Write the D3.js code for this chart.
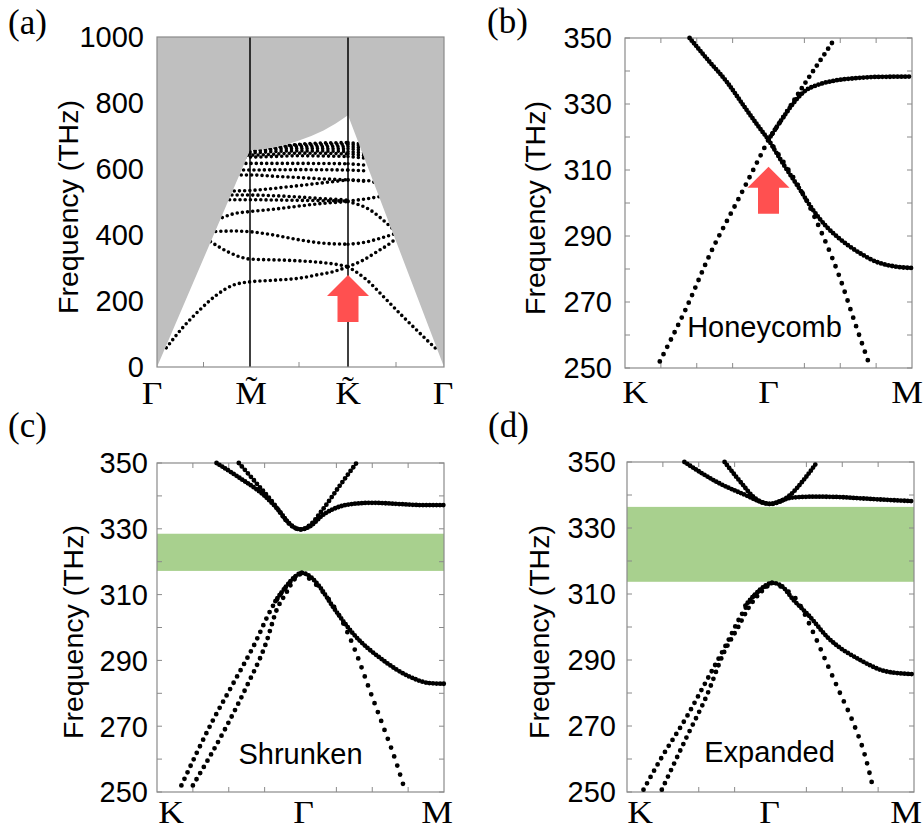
<!DOCTYPE html>
<html><head><meta charset="utf-8">
<script src="https://cdn.jsdelivr.net/npm/d3@7"></script>
<style>body{margin:0;background:#fff}</style>
</head><body>
<svg id="chart" width="924" height="832" xmlns="http://www.w3.org/2000/svg"></svg>
<script>
// ================= DATA =================
// ---- panel (a): band structure along Γ–M~–K~–Γ (path index 0..6)
const aPathTicks  = [0, 2, 4, 6];
const aPathLabels = ["Γ", "M\u0303", "K\u0303", "Γ"];
const aMinorTicks = [1, 3, 5];
const aYTicks     = [0, 200, 400, 600, 800, 1000];
const aLightLine  = [[0,0],[2,657],[2.25,659],[2.5,665],[2.75,674],[3,686],[3.25,700],[3.5,717],[3.75,738],[4,763],[6,0]];
const aBand1  = [[0.2,58],[0.57,122],[0.92,173],[1.28,218],[1.64,248],[2,258],[2.5,263],[3,269],[3.36,279],[3.7,289],[4,304],[4.39,264],[4.74,213],[5.15,152],[5.57,92],[5.82,57]];
const aBand2  = [[1.15,380],[1.57,346],[2,327],[2.82,323],[3.5,316],[3.84,309],[4,304],[4.32,324],[4.6,349],[4.88,375],[5.05,395]];
const aBand3  = [[1.15,410],[1.64,412],[2,410],[2.48,400],[3.02,385],[3.5,375],[4,372],[4.32,377],[4.67,390],[5,405]];
const aBand4  = [[1.2,440],[1.64,464],[2,471],[2.48,478],[3.02,488],[3.5,496],[4,501],[4.46,476],[4.81,435],[5,410]];
const aBand5  = [[1.45,507],[2,507],[2.5,506],[3,505],[3.5,504],[4,503],[4.3,508],[4.6,515],[4.75,519]];
const aBand6  = [[1.5,521],[2,521],[2.5,519],[3,515],[3.5,510],[4,506]];
const aBand7  = [[1.55,533],[2,535],[2.78,546],[3.48,558],[4,567],[4.45,564],[4.6,556]];
const aBand8  = [[1.7,582],[2,582],[2.5,578],[3,574],[3.5,570],[4,567],[4.4,562]];
const aBand9  = [[1.75,597],[2,597],[3,598],[4,597],[4.4,594]];
const aBand10 = [[1.8,617],[2,617],[3,617],[4,616],[4.35,612]];
const aBand11 = [[1.9,636],[2,636],[3,640],[4,638],[4.4,632]];
const aBand12 = [[1.95,642],[2,642],[3,648],[4,646],[4.4,640]];
const aBand13 = [[2,648],[3,655],[4,653],[4.4,648]];
const aBand14 = [[2,653],[3,662],[4,661],[4.4,656]];
const aBand15 = [[2.1,657],[3,668],[4,668],[4.4,663]];
const aBand16 = [[2.4,663],[3,673],[4,675],[4.4,670]];
const aBand17 = [[2.8,672],[3.3,678],[4,680],[4.3,676]];
const aArrowTip = [4, 279];

// ---- panels (b)(c)(d): K–Γ–M (path index 0..8)
const kgmTicks  = [0, 4, 8];
const kgmLabels = ["K", "Γ", "M"];
const kgmMinor  = [1, 2, 3, 5, 6, 7];
const freqTicks = [250, 260, 270, 280, 290, 300, 310, 320, 330, 340, 350];
const freqLabels = [250, 270, 290, 310, 330, 350];

// (b) honeycomb
const bLeftDense       = [[1.8,350],[2.3,343.5],[2.83,336.8],[3.39,328.2],[3.7,323.5],[4.0,319.2]];
const bLeftSparse      = [[0.97,252],[1.7,268],[2.37,284.5],[3.2,302],[4.0,319.2]];
const bRightUpSparse   = [[4.0,319.2],[4.5,327.5],[5.0,336],[5.4,342.5],[5.8,349]];
const bRightUpDense    = [[4.0,319.2],[4.4,325.8],[4.75,331],[5.0,333.8],[5.4,335.9],[5.8,337],[6.4,337.8],[7,338.2],[8,338.3]];
const bRightDownSparse = [[4.0,319.2],[4.5,311],[5.0,302],[5.5,290.5],[6.0,277],[6.4,264],[6.78,252]];
const bRightDownDense  = [[4.0,319.2],[4.4,312],[4.87,304.2],[5.2,298.5],[5.62,292.8],[6.0,289],[6.55,284.8],[7.0,282.2],[7.5,280.8],[8,280.3]];
const bArrowTip = [4, 311];

// (c) shrunken
const cUp1   = [[1.66,350],[2.3,345.5],[3.0,340],[3.4,335.5],[3.7,331.5],[4.0,329.8],[4.3,331],[4.6,334],[5.0,336.4],[5.5,337.6],[6,337.9],[6.8,337.5],[7.4,337.2],[8,337.2]];
const cUp2   = [[2.28,350],[2.8,343.5],[3.3,337],[3.6,332.5],[3.85,330.2],[4.0,329.8],[4.25,331],[4.63,336],[5.1,343.2],[5.56,350]];
const cLow1  = [[0.68,252],[1.56,271.8],[2.12,282.9],[2.68,294.1],[3.24,306.7],[3.6,312.3],[3.85,315.3],[4.03,316.6]];
const cLow2  = [[1.0,252],[1.93,269.8],[2.49,281.9],[3.05,295.6],[3.33,305.2],[3.6,310.5],[3.8,314.2],[4.03,316.6]];
const cMidDense    = [[3.3,308],[3.6,312.5],[3.85,315.5],[4.03,316.6],[4.3,315.2],[4.54,312.3],[4.91,306.2],[5.47,298.1],[6.31,290],[7.05,285],[7.6,283.1],[8,282.9]];
const cRightSparse = [[4.03,316.6],[4.5,312.3],[5.1,303.2],[5.56,292],[5.93,280.9],[6.31,269.8],[6.68,258.6],[6.87,252]];
const cGap = [317.2, 328.5];

// (d) expanded
const dUp1   = [[1.6,350],[2.6,343.4],[3.34,339.8],[3.71,338],[4.0,337.3],[4.3,338.3],[4.6,339.2],[5.2,339.5],[5.85,339.4],[6.5,339],[7.3,338.5],[8,338.1]];
const dUp2   = [[2.72,350],[3.16,344],[3.53,339.4],[3.8,337.6],[4.0,337.3],[4.27,338],[4.55,340],[4.92,344.5],[5.3,350]];
const dLow1  = [[0.46,250.7],[0.93,259.8],[1.67,272.9],[2.23,284],[2.78,295],[3.16,303.1],[3.53,309.2],[3.8,311.8],[4.04,313.4]];
const dLow2  = [[0.97,250.7],[1.67,266.8],[2.23,279.4],[2.69,292],[3.1,300],[3.4,306],[3.75,310.8],[4.04,313.4]];
const dMidDense    = [[3.3,306.5],[3.6,310.2],[3.85,312.5],[4.04,313.4],[4.3,312.5],[4.64,308.2],[5.1,303.1],[5.57,297.1],[6.5,290],[7.24,286.5],[8,285.7]];
const dRightSparse = [[4.04,313.4],[4.4,311.5],[4.73,308.2],[5.2,298.1],[5.57,289],[5.94,279.9],[6.31,270.9],[6.64,260.8],[6.87,250.7]];
const dGap = [313.7, 336.4];

const panelTitles = ["(a)", "(b)", "(c)", "(d)"];
const yTitle = "Frequency (THz)";
const latticeNames = ["Honeycomb", "Shrunken", "Expanded"];

// ================= RENDER =================
const SANS  = "'Liberation Sans', Arial, Helvetica, sans-serif";
const SERIF = "'Liberation Serif', 'Times New Roman', Times, serif";
const FRAME = "#8a8a8a", GRAY = "#bfbfbf", RED = "#ff5050", GREEN = "#a8d08e";
const TICKFS = 29, SYMFS = 31;
const svg = d3.select("#chart");

function splitAt(pts, xs) {
  const segs = []; let cur = [pts[0]];
  for (let i = 1; i < pts.length; i++) {
    cur.push(pts[i]);
    if (xs.includes(pts[i][0]) && i < pts.length - 1) { segs.push(cur); cur = [pts[i]]; }
  }
  segs.push(cur); return segs;
}

function dotted(g, x, y, pts, r, gap, splits) {
  const line = d3.line().x(d => x(d[0])).y(d => y(d[1])).curve(d3.curveMonotoneX);
  const segs = splits ? splitAt(pts, splits) : [pts];
  segs.forEach(s => g.append("path").attr("d", line(s)).attr("fill", "none")
    .attr("stroke", "#000").attr("stroke-width", r).attr("stroke-linecap", "round")
    .attr("stroke-dasharray", `0 ${gap}`));
}

function arrow(g, cx, tipY) {
  const pts = [[0,0],[21,21],[10.5,21],[10.5,47],[-10.5,47],[-10.5,21],[-21,21]];
  g.append("polygon").attr("points", pts.map(p => `${cx+p[0]},${tipY+p[1]}`).join(" ")).attr("fill", RED);
}

function frameAndTicks(g, x, y, xMinor, yTickVals, tickLen, sides) {
  const [x0, x1] = [x.range()[0], x.range()[x.range().length-1]];
  const [y0, y1] = [y.range()[0], y.range()[1]];
  xMinor.forEach(v => {
    if (sides.bottom) g.append("line").attr("x1", x(v)).attr("x2", x(v)).attr("y1", y0).attr("y2", y0 - tickLen).attr("stroke", FRAME);
    if (sides.top) g.append("line").attr("x1", x(v)).attr("x2", x(v)).attr("y1", y1).attr("y2", y1 + tickLen).attr("stroke", FRAME);
  });
  yTickVals.forEach(v => {
    g.append("line").attr("x1", x0).attr("x2", x0 + tickLen).attr("y1", y(v)).attr("y2", y(v)).attr("stroke", FRAME);
    g.append("line").attr("x1", x1).attr("x2", x1 - tickLen).attr("y1", y(v)).attr("y2", y(v)).attr("stroke", FRAME);
  });
  g.append("rect").attr("x", x0).attr("y", y1).attr("width", x1 - x0).attr("height", y0 - y1)
    .attr("fill", "none").attr("stroke", FRAME).attr("stroke-width", 1.2);
}

function yLabels(g, x, y, vals, gap) {
  vals.forEach(v => g.append("text").attr("x", x.range()[0] - gap).attr("y", y(v)).attr("dy", "0.36em")
    .attr("text-anchor", "end").attr("font-family", SANS).attr("font-size", TICKFS).text(v));
}
function xLabels(g, x, vals, labels, baseY, dxs) {
  vals.forEach((v, i) => g.append("text").attr("transform", `translate(${x(v) + dxs[i]},${baseY}) scale(1.15,1)`)
    .attr("text-anchor", "middle").attr("font-family", SERIF).attr("font-size", SYMFS).text(labels[i]));
}
function yTitleText(g, cx, cy) {
  g.append("text").attr("transform", `translate(${cx + 7},${cy}) rotate(-90)`).attr("text-anchor", "middle")
    .attr("font-family", SANS).attr("font-size", 28.5).text(yTitle);
}
function panelTitle(g, t, px, py) {
  g.append("text").attr("x", px).attr("y", py).attr("font-family", SERIF).attr("font-size", 35).text(t);
}

// ---------- panel (a)
(function() {
  const g = svg.append("g");
  const x = d3.scaleLinear().domain(aPathTicks).range([157, 250, 348, 444]);
  const y = d3.scaleLinear().domain([0, 1000]).range([367, 37]);
  g.append("rect").attr("x", 157).attr("y", 37).attr("width", 287).attr("height", 330).attr("fill", GRAY);
  const cone = d3.line().x(d => x(d[0])).y(d => y(d[1]))(aLightLine) + "Z";
  g.append("path").attr("d", cone).attr("fill", "#fff");
  svg.append("defs").append("clipPath").attr("id", "coneClip").append("path").attr("d", cone);
  [2, 4].forEach(v => g.append("line").attr("x1", x(v)).attr("x2", x(v)).attr("y1", 367).attr("y2", 37)
    .attr("stroke", "#000").attr("stroke-width", 1.5));
  const bands = [aBand1,aBand2,aBand3,aBand4,aBand5,aBand6,aBand7,aBand8,aBand9,aBand10,aBand11,aBand12,aBand13,aBand14,aBand15,aBand16,aBand17];
  const gb = g.append("g").attr("clip-path", "url(#coneClip)");
  bands.forEach(b => dotted(gb, x, y, b, 3.6, 5.2, [4]));
  arrow(g, x(aArrowTip[0]), y(aArrowTip[1]));
  frameAndTicks(g, x, y, aMinorTicks, [], 5, {bottom: true, top: false});
  yLabels(g, x, y, aYTicks, 13);
  xLabels(g, x, aPathTicks, aPathLabels, 404, [-5, 1, 0, -1]);
  yTitleText(g, 71, 207);
  panelTitle(g, panelTitles[0], 8, 34);
})();

// ---------- panels (b)(c)(d)
function kgmPanel(o) {
  const g = svg.append("g");
  const x = d3.scaleLinear().domain([0, 8]).range([o.x0, o.x1]);
  const y = d3.scaleLinear().domain([250, 350]).range([o.yb, o.yt]);
  if (o.gap) g.append("rect").attr("x", o.x0).attr("y", y(o.gap[1])).attr("width", o.x1 - o.x0)
    .attr("height", y(o.gap[0]) - y(o.gap[1])).attr("fill", GREEN);
  frameAndTicks(g, x, y, kgmMinor, freqTicks, 5, {bottom: true, top: true});
  o.bands.forEach(b => dotted(g, x, y, b.d, 4.8, b.gap));
  if (o.arrowTip) arrow(g, x(o.arrowTip[0]), y(o.arrowTip[1]));
  g.append("text").attr("x", x(4) + o.nameDx).attr("y", o.nameY).attr("text-anchor", "middle")
    .attr("font-family", SANS).attr("font-size", 29).text(o.name);
  yLabels(g, x, y, freqLabels, o.labGap);
  xLabels(g, x, kgmTicks, kgmLabels, o.xlabY, o.xlabDx);
  yTitleText(g, o.ytx, o.yty);
  panelTitle(g, o.title, o.tx, o.ty);
}

kgmPanel({x0: 625, x1: 912, yt: 38, yb: 368, labGap: 13, xlabY: 403, xlabDx: [10, 0, -5],
  ytx: 538, yty: 208, title: panelTitles[1], tx: 487, ty: 33,
  name: latticeNames[0], nameDx: -4, nameY: 337, arrowTip: bArrowTip,
  bands: [{d: bLeftDense, gap: 3.4}, {d: bLeftSparse, gap: 8.2}, {d: bRightUpSparse, gap: 6.8},
          {d: bRightUpDense, gap: 3.8}, {d: bRightDownSparse, gap: 9}, {d: bRightDownDense, gap: 3.8}]});

kgmPanel({x0: 157, x1: 444, yt: 463, yb: 792, labGap: 9, xlabY: 823, xlabDx: [14, 3, -7],
  ytx: 76, yty: 632, title: panelTitles[2], tx: 8, ty: 437, gap: cGap,
  name: latticeNames[1], nameDx: 0, nameY: 764,
  bands: [{d: cUp1, gap: 3.4}, {d: cUp2, gap: 4.6}, {d: cLow1, gap: 7.2}, {d: cLow2, gap: 7.2},
          {d: cMidDense, gap: 3.6}, {d: cRightSparse, gap: 9.5}]});

kgmPanel({x0: 627, x1: 914, yt: 462, yb: 792, labGap: 11, xlabY: 823, xlabDx: [13, -1, -8],
  ytx: 542, yty: 632, title: panelTitles[3], tx: 488, ty: 437, gap: dGap,
  name: latticeNames[2], nameDx: -1, nameY: 762,
  bands: [{d: dUp1, gap: 3.4}, {d: dUp2, gap: 3.7}, {d: dLow1, gap: 7.2}, {d: dLow2, gap: 7.2},
          {d: dMidDense, gap: 3.6}, {d: dRightSparse, gap: 9.5}]});
</script>
</body></html>
